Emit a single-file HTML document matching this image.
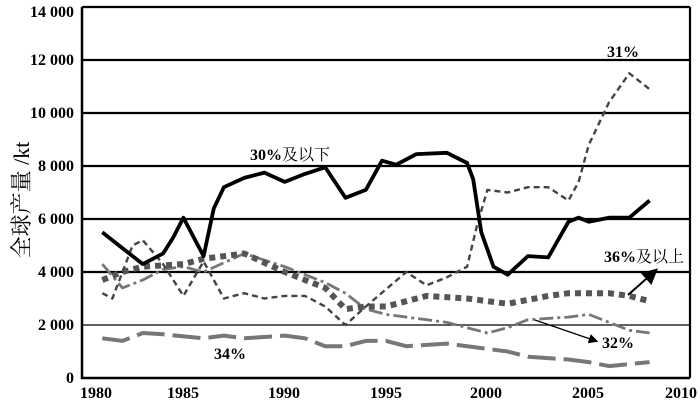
<!DOCTYPE html>
<html><head><meta charset="utf-8"><style>
html,body{margin:0;padding:0;background:#fff;}
svg{display:block;}
text{font-family:"Liberation Serif","Times New Roman","Noto Serif CJK SC",serif;}
</style></head><body>
<svg width="700" height="402" viewBox="0 0 700 402" xmlns="http://www.w3.org/2000/svg">
<defs><marker id="ah" markerWidth="8" markerHeight="8" refX="6" refY="4" orient="auto"><path d="M0,0 L8,4 L0,8 z" fill="#000"/></marker></defs>
<g stroke="#000" stroke-width="2.2">
<line x1="82" y1="325" x2="690" y2="325" stroke-width="1.2"/>
<line x1="82" y1="272" x2="690" y2="272"/>
<line x1="82" y1="219" x2="690" y2="219"/>
<line x1="82" y1="166" x2="690" y2="166"/>
<line x1="82" y1="113" x2="690" y2="113"/>
<line x1="82" y1="60" x2="690" y2="60"/>
<line x1="82" y1="7" x2="690" y2="7"/>
<line x1="690" y1="7" x2="690" y2="378"/>
<line x1="82" y1="7" x2="82" y2="379" stroke-width="2.5"/>
<line x1="81" y1="378" x2="690" y2="378" stroke-width="2.5"/>
</g>
<g font-size="16" font-weight="bold" text-anchor="end">
<text x="74" y="383">0</text><text x="74" y="330">2 000</text><text x="74" y="277">4 000</text>
<text x="74" y="224">6 000</text><text x="74" y="171">8 000</text><text x="74" y="118">10 000</text>
<text x="74" y="65">12 000</text><text x="74" y="17">14 000</text>
</g>
<g font-size="16" font-weight="bold" text-anchor="middle">
<text x="96" y="398">1980</text><text x="183" y="398">1985</text><text x="284" y="398">1990</text>
<text x="386" y="398">1995</text><text x="486" y="398">2000</text><text x="588" y="398">2005</text><text x="681" y="398">2010</text>
</g>
<text transform="translate(29,200) rotate(-90)" font-size="22" text-anchor="middle">全球产量 /kt</text>
<g fill="none" stroke-linejoin="round" stroke-linecap="butt">
<polyline stroke="#777" stroke-width="4" stroke-dasharray="28,8" points="102.3,338.3 122.5,340.9 142.8,333 163.1,334.3 203.6,338.3 223.9,335.6 244.2,338.3 284.7,335.6 305,338.3 325.2,346.2 345.5,346.2 365.8,340.9 386.1,340.9 406.3,346.2 446.9,343.6 487.4,348.9 507.7,351.5 527.9,356.8 568.5,359.5 588.8,362.1 609,366.1 649.6,362.1"/>
<polyline stroke="#777" stroke-width="2.8" stroke-dasharray="14,4,3,4" points="102.3,264.1 122.5,287.9 142.8,280 163.1,269.4 183.4,266.7 203.6,272 244.2,253.5 284.7,266.7 325.2,282.6 345.5,293.2 365.8,309.1 386.1,314.4 446.9,322.4 487.4,333 507.7,327.7 527.9,319.7 568.5,317.1 588.8,314.4 629.3,330.3 649.6,333"/>
<polyline stroke="#555" stroke-width="6" stroke-dasharray="6,5" points="102.3,280 122.5,272 142.8,266.7 183.4,264.1 203.6,258.8 244.2,253.5 284.7,272 325.2,287.9 345.5,309.1 365.8,306.5 386.1,306.5 426.6,295.9 467.1,298.5 507.7,303.8 548.2,295.9 568.5,293.2 609,293.2 629.3,295.9 649.6,301.2"/>
<polyline stroke="#444" stroke-width="2.4" stroke-dasharray="6,4" points="102.3,293.2 112.4,298.5 132.6,245.5 142.8,240.2 163.1,264.1 183.4,295.9 203.6,261.4 223.9,298.5 244.2,293.2 264.4,298.5 284.7,295.9 305,295.9 325.2,306.5 345.5,325 365.8,306.5 406.3,272 426.6,285.3 446.9,277.3 467.1,266.7 477.3,224.3 487.4,189.9 507.7,192.5 527.9,187.2 548.2,187.2 568.5,200.5 578.6,181.9 588.8,144.8 609,102.4 629.3,73.3 649.6,89.2"/>
<polyline stroke="#000" stroke-width="3.8" points="102.3,232.3 122.5,248.2 142.8,264.1 163.1,253.5 173.2,237.5 183.4,217.7 203.6,256.1 213.8,208.4 223.9,187.2 244.2,177.9 264.4,172.6 284.7,181.9 305,173.9 325.2,167.3 345.5,197.8 365.8,189.9 382,160.7 396.2,164.7 416.5,154.1 446.9,152.8 467.1,163 473.2,179.3 481.3,232.3 493.5,266.7 507.7,274.7 527.9,256.1 548.2,257.4 568.5,221.7 578.6,217.7 588.8,221.7 609,217.7 629.3,217.7 649.6,200.5"/>
</g>
<line x1="628" y1="295" x2="655" y2="271" stroke="#000" stroke-width="2" marker-end="url(#ah)"/>
<line x1="535" y1="320" x2="596" y2="341" stroke="#000" stroke-width="1.2" marker-end="url(#ah)"/>
<g font-size="16" font-weight="bold">
<text x="250" y="160">30%<tspan font-weight="normal">及以下</tspan></text>
<text x="607" y="57">31%</text>
<text x="604" y="262">36%<tspan font-weight="normal">及以上</tspan></text>
<text x="602" y="348">32%</text>
<text x="214" y="359">34%</text>
</g>
</svg>
</body></html>
